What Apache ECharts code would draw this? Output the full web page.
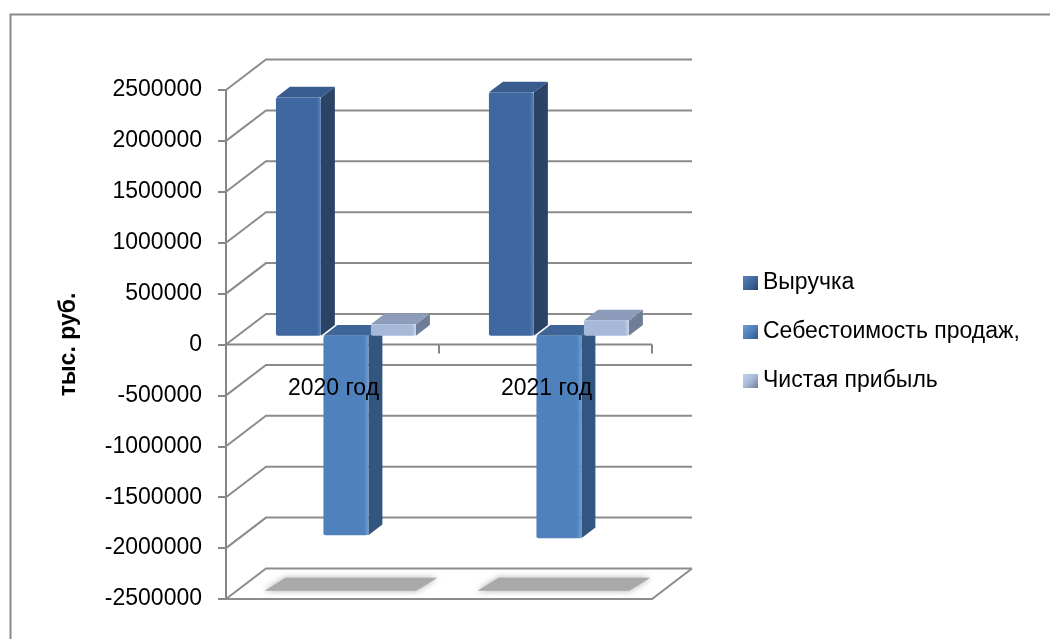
<!DOCTYPE html>
<html>
<head>
<meta charset="utf-8">
<script src="https://cdn.jsdelivr.net/npm/echarts@6/dist/echarts.min.js"></script>
<style>html,body{margin:0;padding:0;background:#fff}#c{width:1050px;height:639px}</style>
</head>
<body>
<div id="c"></div>
<script>
// ---- data ----
const categories = ['2020 год', '2021 год'];
const seriesNames = ['Выручка', 'Себестоимость продаж,', 'Чистая прибыль'];
const revenue = [2340000, 2390000];
const cost = [-1960000, -1990000];
const profit = [112000, 150000];
const yTicks = [-2500000, -2000000, -1500000, -1000000, -500000, 0, 500000, 1000000, 1500000, 2000000, 2500000];
const yAxisTitle = 'тыс. руб.';

// ---- style constants ----
const FONT = 'Liberation Sans';
const WALL_DX = 40, WALL_DY = -30.5;       // depth of the chart box
const BAR_OFF = 0.29, BAR_DEPTH = 0.35;    // bar position / depth as fraction of box depth
const BAR_START = -0.32, BAR_STEP = 0.223, BAR_W = 0.211; // fractions of category band
const GRID_COLOR = '#8c8c8c';
const faces = [
  {front: '#4068a0', side: '#2b4466', top: '#385c8d', light: '#5a82ba'},
  {front: '#4f81bd', side: '#32567f', top: '#3d6597', light: '#6e9bd4'},
  {front: '#a7b9d8', side: '#6f7e97', top: '#8d9cba', light: '#c3d1ea'}
];

const chart = echarts.init(document.getElementById('c'));

function wallRender(params, api) {
  const cs = params.coordSys;
  const v = api.value(1);
  const y = api.coord([0, v])[1];
  const xL = cs.x, xR = cs.x + cs.width;
  const st = {stroke: GRID_COLOR, lineWidth: 2, fill: null};
  const ch = [{type: 'polyline', shape: {points: [[xL, y], [xL + WALL_DX, y + WALL_DY], [xR + WALL_DX, y + WALL_DY]]}, style: st}];
  if (v === yTicks[0]) {
    ch.push({type: 'polyline', shape: {points: [[xL, y], [xR, y], [xR + WALL_DX, y + WALL_DY]]}, style: st});
  }
  if (v === 0) {
    ch.push({type: 'line', shape: {x1: xL, y1: y, x2: xR, y2: y}, style: {stroke: '#868686', lineWidth: 2}});
    const band = api.size([1, 0])[0];
    for (let j = 1; j <= categories.length; j++) {
      const xt = xL + band * j;
      ch.push({type: 'line', shape: {x1: xt, y1: y, x2: xt, y2: y + 9}, style: {stroke: '#868686', lineWidth: 2}});
    }
  }
  return {type: 'group', children: ch};
}

function shadowRender(params, api) {
  const i = api.value(0), v = api.value(1);
  const band = api.size([1, 0])[0];
  const c = api.coord([i, v]);
  const d1 = 0.27, d2 = 0.70;
  const xa = c[0] - band * 0.37, xb = c[0] + band * 0.38;
  const pts = [
    [xa + WALL_DX * d1, c[1] + WALL_DY * d1],
    [xa + WALL_DX * d2 + 4, c[1] + WALL_DY * d2],
    [xb + WALL_DX * d2 - 4, c[1] + WALL_DY * d2],
    [xb + WALL_DX * d1 - 8, c[1] + WALL_DY * d1]
  ];
  return {type: 'polygon', shape: {points: pts}, style: {fill: '#a9a9a9', shadowBlur: 6, shadowColor: 'rgba(160,160,160,0.9)'}};
}

function labelRender(params, api) {
  const i = api.value(0);
  const c = api.coord([i, 0]);
  return {type: 'text', x: c[0] + 1, y: c[1] + 33,
    style: {text: categories[i], font: '23px "' + FONT + '"', fill: '#000', align: 'center', verticalAlign: 'top',
      textAlign: 'center', textVerticalAlign: 'top'}};
}

function barRender(k) {
  return function (params, api) {
    const i = api.value(0), v = api.value(1);
    const band = api.size([1, 0])[0];
    const c0 = api.coord([i, 0]);
    const cv = api.coord([i, v]);
    const ox = WALL_DX * BAR_OFF, oy = WALL_DY * BAR_OFF;
    const dx = WALL_DX * BAR_DEPTH, dy = WALL_DY * BAR_DEPTH;
    const x0 = c0[0] + band * (BAR_START + k * BAR_STEP) + ox;
    const x1 = x0 + band * BAR_W;
    const yA = c0[1] + oy, yB = cv[1] + oy;
    const top = Math.min(yA, yB), bot = Math.max(yA, yB);
    const f = faces[k];
    const frontFill = new echarts.graphic.LinearGradient(0, 0, 1, 0, [
      {offset: 0, color: f.front}, {offset: 0.9, color: f.front}, {offset: 1, color: f.light}
    ]);
    return {type: 'group', children: [
      {type: 'polygon', shape: {points: [[x1, top], [x1 + dx, top + dy], [x1 + dx, bot + dy], [x1, bot]]}, style: {fill: f.side}},
      {type: 'polygon', shape: {points: [[x0, top], [x0 + dx, top + dy], [x1 + dx, top + dy], [x1, top]]}, style: {fill: f.top}},
      {type: 'rect', shape: {x: x0, y: top, width: x1 - x0, height: bot - top, r: 2}, style: {fill: frontFill}}
    ]};
  };
}

const seriesData = [revenue, cost, profit];

const option = {
  animation: false,
  backgroundColor: '#fff',
  graphic: [{type: 'rect', left: 8, top: 12, shape: {width: 1100, height: 700}, style: {fill: null, stroke: '#8a8a8a', lineWidth: 2}}],
  grid: {left: 226, top: 90, width: 426, height: 509, containLabel: false, outerBoundsMode: 'none'},
  xAxis: {
    type: 'category', data: categories,
    axisLine: {show: false}, axisTick: {show: false}, axisLabel: {show: false}
  },
  yAxis: {
    type: 'value', min: -2500000, max: 2500000, interval: 500000,
    name: yAxisTitle, nameLocation: 'middle', nameRotate: 90, nameGap: 146,
    nameTextStyle: {fontFamily: FONT, fontSize: 23, fontWeight: 'bold', color: '#000'},
    axisLine: {show: true, lineStyle: {color: '#868686', width: 2}},
    axisTick: {show: true, length: 8, lineStyle: {color: '#868686', width: 2}},
    splitLine: {show: false},
    axisLabel: {margin: 24, fontFamily: FONT, fontSize: 23, color: '#000', padding: [5, 0, 0, 0],
      formatter: v => String(v)}
  },
  legend: {
    orient: 'vertical', left: 738, top: 265, itemGap: 23,
    itemWidth: 15, itemHeight: 14, icon: 'rect',
    textStyle: {fontFamily: FONT, fontSize: 23, color: '#000', lineHeight: 26},
    data: seriesNames.map((n, k) => ({
      name: n,
      itemStyle: {color: new echarts.graphic.LinearGradient(0, 0, 1, 1, [
        {offset: 0, color: faces[k].light}, {offset: 0.5, color: faces[k].front}, {offset: 1, color: faces[k].side}
      ])}
    }))
  },
  series: [
    {type: 'custom', name: '_walls', z: 1, silent: true, renderItem: wallRender, encode: {x: 0, y: 1},
     data: yTicks.map(v => [0, v])},
    {type: 'custom', name: '_floor', z: 1, silent: true, renderItem: shadowRender, encode: {x: 0, y: 1},
     data: categories.map((c, i) => [i, yTicks[0]])}
  ].concat(seriesNames.map((n, k) => ({
    type: 'custom', name: n, z: 2 + k, renderItem: barRender(k), encode: {x: 0, y: 1},
    itemStyle: {color: faces[k].front},
    data: seriesData[k].map((v, i) => [i, v])
  }))).concat([
    {type: 'custom', name: '_catLabels', z: 10, silent: true, renderItem: labelRender, encode: {x: 0, y: 1},
     data: categories.map((c, i) => [i, 0])}
  ])
};
chart.setOption(option);
</script>
</body>
</html>
